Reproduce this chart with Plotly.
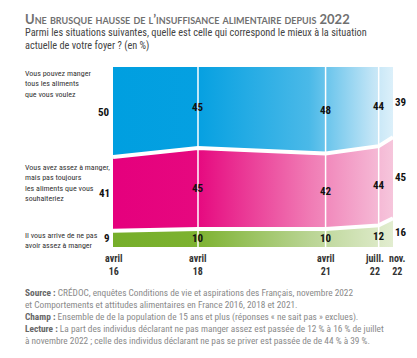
import plotly.graph_objects as go

dates = ["2016-04-01", "2018-04-01", "2021-04-01", "2022-07-01", "2022-11-01"]
tick_labels = ["avril<br>16", "avril<br>18", "avril<br>21", "juill.<br>22", "nov.<br>22"]
not_enough = [9, 10, 10, 12, 16]
enough_not_always = [41, 45, 42, 44, 45]
all_wanted = [50, 45, 48, 44, 39]
categories = [
    "Vous pouvez manger<br>tous les aliments<br>que vous voulez",
    "Vous avez assez à manger,<br>mais pas toujours<br>les aliments que vous<br>souhaiteriez",
    "Il vous arrive de ne pas<br>avoir assez à manger",
]

COND = "Roboto Condensed, DejaVu Sans Condensed, sans-serif"
TXT = "Lato, Open Sans, sans-serif"

g = not_enough
gp = [a + b for a, b in zip(not_enough, enough_not_always)]
top = [a + b for a, b in zip(gp, all_wanted)]

fig = go.Figure()
fig.add_trace(go.Scatter(x=dates, y=g, mode="lines", line=dict(width=0), fill="tozeroy",
                         fillgradient=dict(type="horizontal",
                                           colorscale=[[0, "#76ae2a"], [0.3, "#7db230"], [0.7, "#b9d493"], [1, "#e2edd0"]]),
                         hoverinfo="skip", showlegend=False))
fig.add_trace(go.Scatter(x=dates, y=g, mode="lines", line=dict(width=0), hoverinfo="skip", showlegend=False))
fig.add_trace(go.Scatter(x=dates, y=gp, mode="lines", line=dict(width=0), fill="tonexty",
                         fillgradient=dict(type="horizontal",
                                           colorscale=[[0, "#e5007d"], [0.3, "#e6087f"], [0.7, "#f07ab4"], [1, "#f6c6dc"]]),
                         hoverinfo="skip", showlegend=False))
fig.add_trace(go.Scatter(x=dates, y=gp, mode="lines", line=dict(width=0), hoverinfo="skip", showlegend=False))
fig.add_trace(go.Scatter(x=dates, y=top, mode="lines", line=dict(width=0), fill="tonexty",
                         fillgradient=dict(type="horizontal",
                                           colorscale=[[0, "#009fe0"], [0.3, "#05a0e1"], [0.7, "#4ab9e8"], [0.93, "#c3e5f6"], [1, "#dcf0fa"]]),
                         hoverinfo="skip", showlegend=False))
for yy in (g, gp):
    fig.add_trace(go.Scatter(x=dates, y=yy, mode="lines", line=dict(color="white", width=4),
                             hoverinfo="skip", showlegend=False))

for d in dates[1:-1]:
    fig.add_shape(type="line", x0=d, x1=d, y0=0, y1=100, xref="x", yref="y",
                  line=dict(color="white", width=1.5), layer="above")

layers = [(not_enough, [0] * 5, g), (enough_not_always, g, gp), (all_wanted, gp, top)]
n = len(dates)
for vals, lo, hi in layers:
    for i in range(n):
        mid = (lo[i] + hi[i]) / 2
        if i == 0:
            xa, xs = "right", -1
        elif i == n - 1:
            xa, xs = "left", 0
        else:
            xa, xs = "center", 0
        fig.add_annotation(x=dates[i], y=mid, text=f"<b>{vals[i]}</b>", showarrow=False,
                           xanchor=xa, xshift=xs,
                           font=dict(family=COND, size=11, color="#111"))

# x tick labels (last two nudged apart as in the original)
for i, (d, t) in enumerate(zip(dates, tick_labels)):
    xs = -4 if i == n - 2 else (4 if i == n - 1 else 0)
    fig.add_annotation(x=d, y=0, yref="y", text=f"<b>{t}</b>", showarrow=False, yanchor="top",
                       yshift=-4, xshift=xs, align="center",
                       font=dict(family=COND, size=10, color="#333"))

cat_y = [1.0, 0.478, 0.10]
for txt, yy in zip(categories, cat_y):
    fig.add_annotation(xref="paper", yref="paper", x=-0.32, y=yy, text=txt, showarrow=False,
                       xanchor="left", yanchor="top", align="left",
                       font=dict(family=COND, size=8, color="#333"))

fig.add_annotation(xref="paper", yref="paper", x=-0.32, y=1.325, xanchor="left", yanchor="top",
                   text="<b>Une brusque hausse de l’insuffisance alimentaire depuis 2022</b>",
                   showarrow=False, font=dict(family=TXT, size=13, color="#707070", variant="small-caps"))
fig.add_annotation(xref="paper", yref="paper", x=-0.32, y=1.24, xanchor="left", yanchor="top", align="left",
                   text="Parmi les situations suivantes, quelle est celle qui correspond le mieux à la situation<br>actuelle de votre foyer ? (en %)",
                   showarrow=False, font=dict(family=COND, size=10.3, color="#444"))

footer = ("<b style='color:#666'>Source :</b> CRÉDOC, enquêtes Conditions de vie et aspirations des Français, novembre 2022<br>"
          "et Comportements et attitudes alimentaires en France 2016, 2018 et 2021.<br>"
          "<b style='color:#666'>Champ :</b> Ensemble de de la population de 15 ans et plus (réponses « ne sait pas » exclues).<br>"
          "<b style='color:#666'>Lecture :</b> La part des individus déclarant ne pas manger assez est passée de 12 % à 16 % de juillet<br>"
          "à novembre 2022 ; celle des individus déclarant ne pas se priver est passée de de 44 % à 39 %.")
fig.add_annotation(xref="paper", yref="paper", x=-0.32, y=-0.21, xanchor="left", yanchor="top", align="left",
                   text=footer, showarrow=False, font=dict(family=COND, size=9.3, color="#8a8a8a"))

fig.update_layout(
    width=401, height=342,
    margin=dict(l=105, r=16, t=59, b=103, autoexpand=False),
    paper_bgcolor="white", plot_bgcolor="white",
    xaxis=dict(type="date", range=[dates[0], dates[-1]], showticklabels=False,
               showgrid=False, zeroline=False, showline=False, ticks="", automargin=False),
    yaxis=dict(range=[0, 100], visible=False, automargin=False),
)
fig.write_html("out.html")
